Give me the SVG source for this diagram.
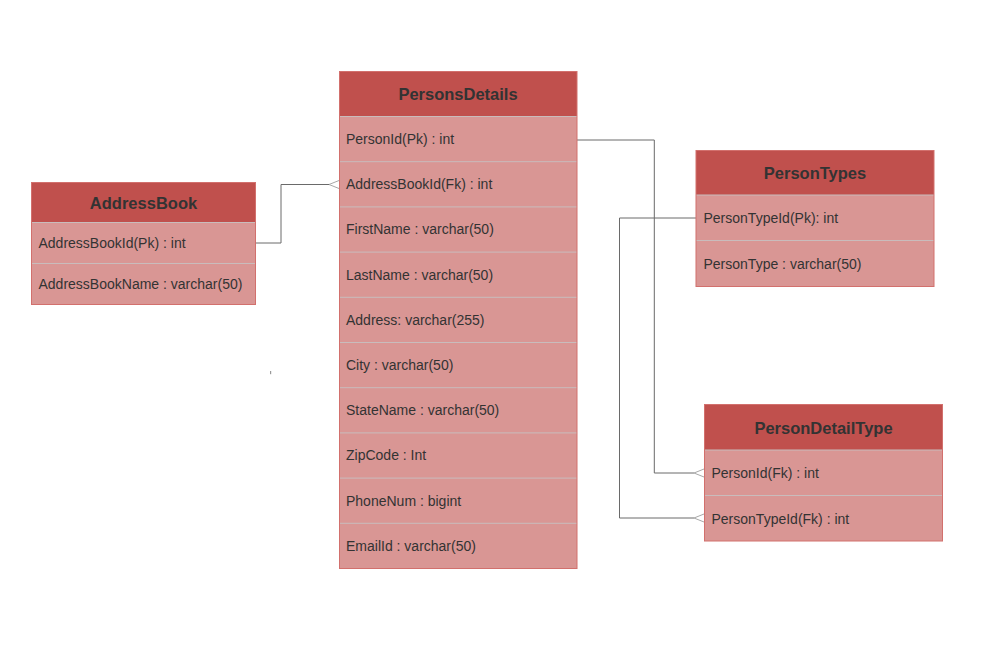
<svg xmlns="http://www.w3.org/2000/svg" width="1007" height="666" viewBox="0 0 1007 666">
<style>
.hd{fill:#c0504d}
.bd{fill:#d99694}
.ob{fill:none;stroke:#d2706d;stroke-width:1}
.sep{stroke:#c9bcbc;stroke-width:1}
.ht{font-family:"Liberation Sans",Arial,sans-serif;font-size:16.5px;font-weight:bold;fill:#333;text-anchor:middle}
.rt{font-family:"Liberation Sans",Arial,sans-serif;font-size:14px;fill:#333}
.ln{fill:none;stroke:#6a6a6a;stroke-width:1}
.cf{fill:none;stroke:#a8a8a8;stroke-width:1}
</style>
<rect width="1007" height="666" fill="#ffffff"/>
<g id="connectors">
<polyline class="ln" points="256,243 281,243 281,184.5 330,184.5"/>
<path class="cf" d="M339,180.5 L329,184.5 L339,188.5"/>
<polyline class="ln" points="577,140 654.3,140 654.3,473 694,473"/>
<path class="cf" d="M704,469 L694,473 L704,477"/>
<polyline class="ln" points="696,218 619.5,218 619.5,518 694,518"/>
<path class="cf" d="M704,514 L694,518 L704,522"/>
</g>
<g id="AddressBook">
<rect class="bd" x="31.5" y="182.5" width="224" height="122"/>
<rect class="hd" x="31.5" y="182.5" width="224" height="40"/>
<line class="sep" x1="31.5" y1="222.5" x2="255.5" y2="222.5"/>
<line class="sep" x1="31.5" y1="263.5" x2="255.5" y2="263.5"/>
<rect class="ob" x="31.5" y="182.5" width="224" height="122"/>
<text class="ht" x="143.5" y="209">AddressBook</text>
<text class="rt" x="38.5" y="248">AddressBookId(Pk) : int</text>
<text class="rt" x="38.5" y="289">AddressBookName : varchar(50)</text>
</g>
<g id="PersonsDetails">
<rect class="bd" x="339.5" y="71.5" width="237.5" height="497"/>
<rect class="hd" x="339.5" y="71.5" width="237.5" height="45"/>
<line class="sep" x1="339.5" y1="116.5" x2="577" y2="116.5"/>
<line class="sep" x1="339.5" y1="161.7" x2="577" y2="161.7"/>
<line class="sep" x1="339.5" y1="206.9" x2="577" y2="206.9"/>
<line class="sep" x1="339.5" y1="252.1" x2="577" y2="252.1"/>
<line class="sep" x1="339.5" y1="297.3" x2="577" y2="297.3"/>
<line class="sep" x1="339.5" y1="342.5" x2="577" y2="342.5"/>
<line class="sep" x1="339.5" y1="387.7" x2="577" y2="387.7"/>
<line class="sep" x1="339.5" y1="432.9" x2="577" y2="432.9"/>
<line class="sep" x1="339.5" y1="478.1" x2="577" y2="478.1"/>
<line class="sep" x1="339.5" y1="523.3" x2="577" y2="523.3"/>
<rect class="ob" x="339.5" y="71.5" width="237.5" height="497"/>
<text class="ht" x="458" y="100">PersonsDetails</text>
<text class="rt" x="346" y="144">PersonId(Pk) : int</text>
<text class="rt" x="346" y="189.2">AddressBookId(Fk) : int</text>
<text class="rt" x="346" y="234.4">FirstName : varchar(50)</text>
<text class="rt" x="346" y="279.6">LastName : varchar(50)</text>
<text class="rt" x="346" y="324.8">Address: varchar(255)</text>
<text class="rt" x="346" y="370">City : varchar(50)</text>
<text class="rt" x="346" y="415.2">StateName : varchar(50)</text>
<text class="rt" x="346" y="460.4">ZipCode : Int</text>
<text class="rt" x="346" y="505.6">PhoneNum : bigint</text>
<text class="rt" x="346" y="550.8">EmailId : varchar(50)</text>
</g>
<g id="PersonTypes">
<rect class="bd" x="696" y="150.5" width="238" height="136"/>
<rect class="hd" x="696" y="150.5" width="238" height="44.5"/>
<line class="sep" x1="696" y1="195" x2="934" y2="195"/>
<line class="sep" x1="696" y1="240.5" x2="934" y2="240.5"/>
<rect class="ob" x="696" y="150.5" width="238" height="136"/>
<text class="ht" x="815" y="179">PersonTypes</text>
<text class="rt" x="703.5" y="223">PersonTypeId(Pk): int</text>
<text class="rt" x="703.5" y="268.5">PersonType : varchar(50)</text>
</g>
<g id="PersonDetailType">
<rect class="bd" x="704.5" y="404.5" width="238" height="136.5"/>
<rect class="hd" x="704.5" y="404.5" width="238" height="45.5"/>
<line class="sep" x1="704.5" y1="450" x2="942.5" y2="450"/>
<line class="sep" x1="704.5" y1="495.5" x2="942.5" y2="495.5"/>
<rect class="ob" x="704.5" y="404.5" width="238" height="136.5"/>
<text class="ht" x="823.5" y="434">PersonDetailType</text>
<text class="rt" x="711.5" y="478">PersonId(Fk) : int</text>
<text class="rt" x="711.5" y="523.5">PersonTypeId(Fk) : int</text>
</g>
<rect x="270" y="371" width="1.2" height="3.2" fill="#9a9a9a"/>
</svg>
